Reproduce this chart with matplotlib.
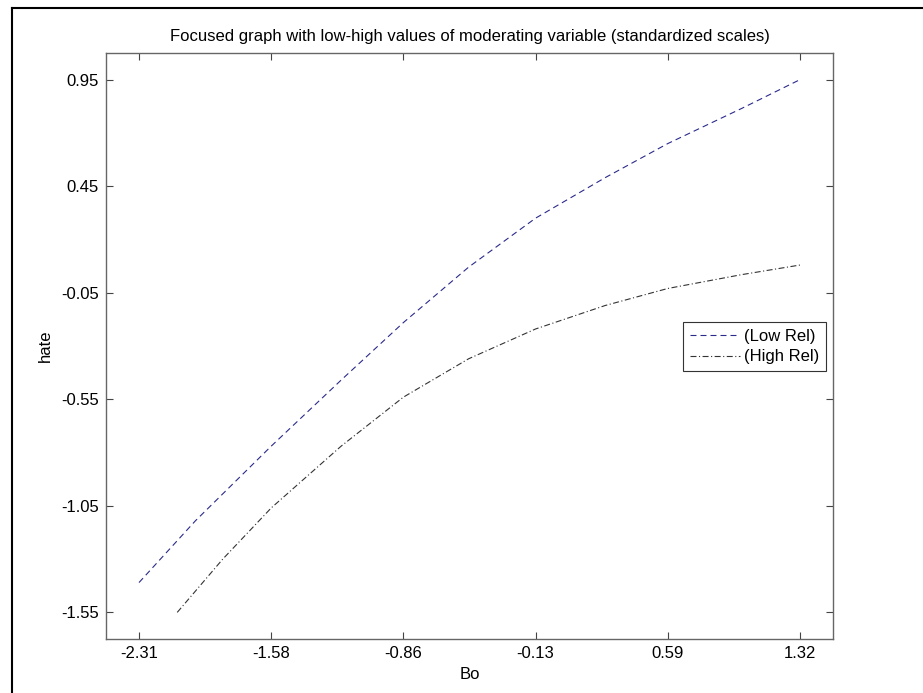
import matplotlib.pyplot as plt
from matplotlib.lines import Line2D

plt.rcParams['font.family'] = ['Liberation Sans', 'DejaVu Sans']
plt.rcParams['font.size'] = 12
plt.rcParams['lines.scale_dashes'] = False

# tick values (labels are the rounded ones)
x_ticks = [-2.31, -1.584, -0.858, -0.132, 0.594, 1.32]
x_tick_labels = ['-2.31', '-1.58', '-0.86', '-0.13', '0.59', '1.32']
y_ticks = [-1.55, -1.05, -0.55, -0.05, 0.45, 0.95]
y_tick_labels = ['-1.55', '-1.05', '-0.55', '-0.05', '0.45', '0.95']

# Low Rel curve
low_x = [-2.31, -2.0, -1.584, -1.2, -0.858, -0.5, -0.132, 0.25, 0.594, 1.0, 1.32]
low_y = [-1.41, -1.12, -0.77, -0.46, -0.19, 0.07, 0.30, 0.49, 0.65, 0.815, 0.95]

# High Rel curve
high_x = [-2.10, -1.85, -1.584, -1.2, -0.858, -0.5, -0.132, 0.25, 0.594, 1.0, 1.32]
high_y = [-1.55, -1.30, -1.06, -0.77, -0.54, -0.36, -0.22, -0.11, -0.03, 0.035, 0.08]

fig = plt.figure(figsize=(9.23, 6.93), dpi=100)
ax = fig.add_axes([0.1148, 0.0779, 0.7877, 0.8456])

ax.plot(low_x, low_y, linestyle=(0, (4.3, 2.9)), color='#2a2a8c', linewidth=0.8, label='(Low Rel)')
ax.plot(high_x, high_y, linestyle=(0, (4.3, 1.8, 0.8, 1.8)), color='#333333', linewidth=0.8,
        label='(High Rel)')

ax.set_xlim(-2.31 - 0.1815, 1.32 + 0.1815)
ax.set_ylim(-1.675, 1.075)
ax.set_xticks(x_ticks)
ax.set_xticklabels(x_tick_labels)
ax.set_yticks(y_ticks)
ax.set_yticklabels(y_tick_labels)
ax.tick_params(direction='in', length=5, width=0.8, color='#444444',
               top=True, right=True, labelsize=12, pad=5)
for s in ax.spines.values():
    s.set_color('#666666')
    s.set_linewidth(1.0)

ax.set_xlabel('Bo', fontsize=12, labelpad=4)
ax.set_ylabel('hate', fontsize=12, labelpad=6)
ax.set_title('Focused graph with low-high values of moderating variable (standardized scales)',
             fontsize=12, pad=9)

leg = ax.legend(loc='upper right', bbox_to_anchor=(0.990, 0.541), borderaxespad=0,
                fancybox=False, framealpha=1, edgecolor='#333333', fontsize=12,
                handlelength=3.0, handletextpad=0.25, labelspacing=0.35, borderpad=0.4)
leg.get_frame().set_linewidth(0.8)

# black frame at the left and top of the picture
fig.add_artist(Line2D([11.5 / 923, 11.5 / 923], [0, 1 - 8.3 / 693], color='black', linewidth=1.5,
                      transform=fig.transFigure))
fig.add_artist(Line2D([11.5 / 923, 1], [1 - 8.3 / 693, 1 - 8.3 / 693], color='black', linewidth=1.5,
                      transform=fig.transFigure))

fig.savefig('out.png', dpi=100)
